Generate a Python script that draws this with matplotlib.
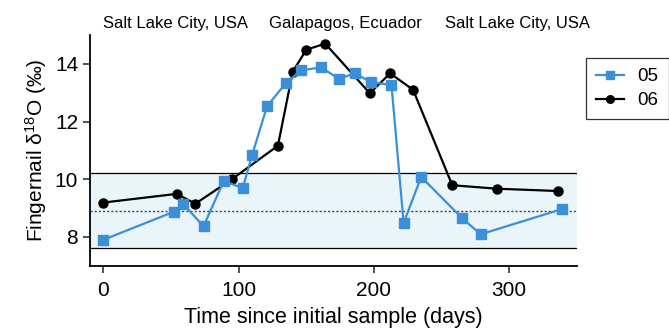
import matplotlib.pyplot as plt
from matplotlib.lines import Line2D

plt.rcParams["font.family"] = ["Liberation Sans", "DejaVu Sans"]
plt.rcParams["mathtext.default"] = "regular"

# sample 05 (blue squares)
days_05 = [0, 52, 59, 74, 89, 103, 110, 121, 135, 146, 161, 174, 186, 198, 213, 222, 235, 265, 279, 339]
d18o_05 = [7.9, 8.87, 9.13, 8.37, 9.94, 9.69, 10.85, 12.53, 13.34, 13.77, 13.88, 13.48, 13.67, 13.36,
           13.27, 8.48, 10.08, 8.66, 8.09, 8.96]

# sample 06 (black circles)
days_06 = [0, 54, 68, 95, 129, 140, 150, 164, 197, 212, 229, 258, 291, 336]
d18o_06 = [9.19, 9.49, 9.15, 10.0, 11.16, 13.73, 14.49, 14.70, 12.98, 13.67, 13.10, 9.79, 9.67, 9.59]

# reference band and its mean
band_low, band_high, band_mid = 7.6, 10.2, 8.88

locations = ["Salt Lake City, USA", "Galapagos, Ecuador", "Salt Lake City, USA"]
location_x = [175.8, 345, 517.5]

blue = "#3b8fd8"

fig = plt.figure(figsize=(6.69, 3.32), dpi=100)
ax = fig.add_axes([0.1345, 0.1997, 0.862 - 0.1345, 0.8946 - 0.1997])

ax.axhspan(band_low, band_high, facecolor="#eaf5fa", edgecolor="none", zorder=0)
ax.axhline(band_low, color="black", linewidth=0.9, zorder=1)
ax.axhline(band_high, color="black", linewidth=0.9, zorder=1)
ax.axhline(band_mid, color="#444444", linewidth=1.0, linestyle=(0, (1.5, 1.5)), zorder=1)

ax.plot(days_06, d18o_06, color="black", linewidth=1.6, marker="o", markersize=6.5, zorder=3)
ax.plot(days_05, d18o_05, color=blue, linewidth=1.6, marker="s", markersize=6.5, zorder=4)

ax.set_xlim(-10, 350)
ax.set_ylim(7, 15)
ax.set_xticks([0, 100, 200, 300])
ax.set_yticks([8, 10, 12, 14])
for side in ("top", "right"):
    ax.spines[side].set_visible(False)
for side in ("left", "bottom"):
    ax.spines[side].set_linewidth(1.3)
ax.tick_params(axis="both", labelsize=15, width=1.1, length=5, color="#222222")
ax.tick_params(axis="x", pad=6)
ax.set_xlabel("Time since initial sample (days)", fontsize=15.5, labelpad=5)
ax.set_ylabel("Fingernail δ$^{18}$O (‰)", fontsize=15, labelpad=4)

for name, px in zip(locations, location_x):
    fig.text(px / 669, 1 - 23.3 / 332, name, ha="center", va="center", fontsize=12)

handles = [
    Line2D([], [], color=blue, marker="s", markersize=5.5, linewidth=1.6),
    Line2D([], [], color="black", marker="o", markersize=5.5, linewidth=1.6),
]
leg = fig.legend(handles, ["05", "06"], loc="upper left", bbox_to_anchor=(586 / 669, 1 - 58 / 332),
                 fontsize=13.5, frameon=True, fancybox=False, edgecolor="black", handlelength=1.5,
                 borderpad=0.55, borderaxespad=0, labelspacing=0.35, handletextpad=0.7)
leg.get_frame().set_linewidth(0.9)

fig.savefig("out.png", dpi=100)
